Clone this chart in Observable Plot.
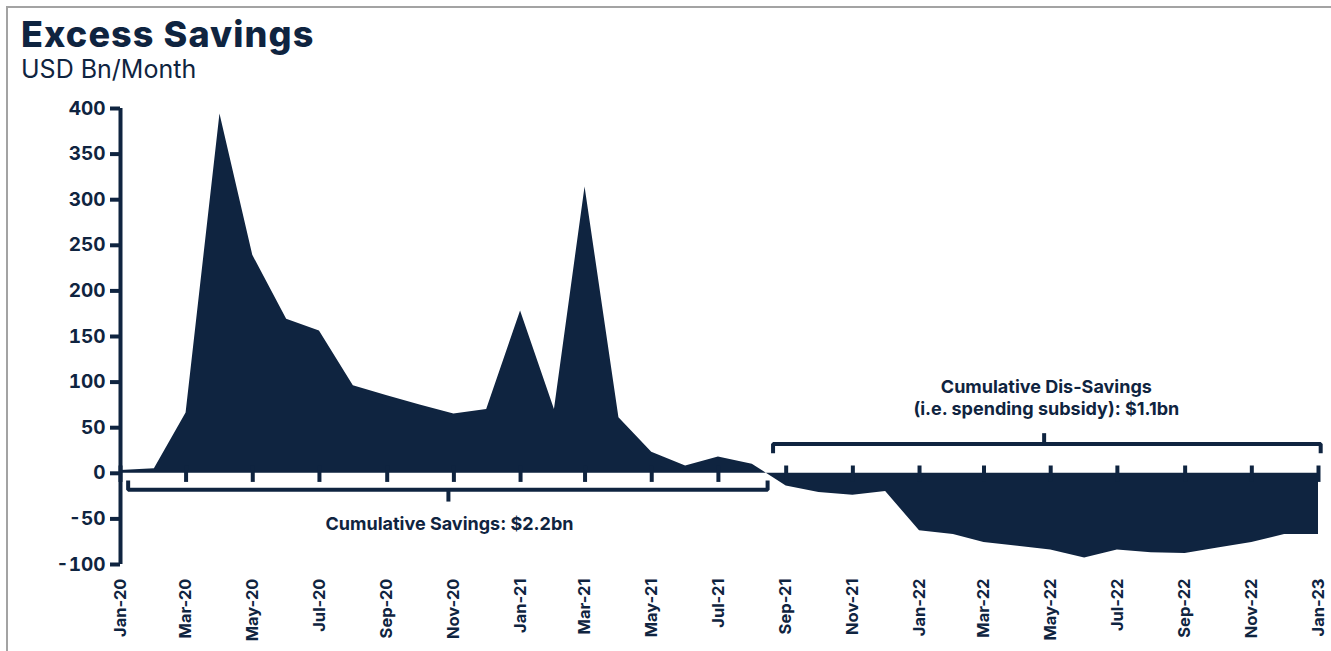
<!DOCTYPE html>
<html>
<head>
<meta charset="utf-8">
<script src="https://cdn.jsdelivr.net/npm/d3@7"></script>
<script src="https://cdn.jsdelivr.net/npm/@observablehq/plot@0.6"></script>
<style>
  html, body { margin: 0; padding: 0; background: #fff; }
  body { width: 1331px; height: 651px; position: relative; overflow: hidden; font-family: Inter, "Liberation Sans", sans-serif; color: #0f2440; }
  #frame { position: absolute; left: 6px; top: 6px; right: -4px; bottom: -4px; border-top: 2px solid #a3a3a3; border-left: 2px solid #a3a3a3; }
  #title { position: absolute; left: 21px; top: 15.5px; font-size: 36px; font-weight: 800; letter-spacing: 1.1px; line-height: 36px; white-space: nowrap; }
  #subtitle { position: absolute; left: 21px; top: 56.5px; font-size: 25px; font-weight: 400; letter-spacing: 0; line-height: 25px; white-space: nowrap; }
  #chart { position: absolute; left: 0; top: 0; }
</style>
</head>
<body>
<div id="frame"></div>
<div id="chart"></div>
<div id="title">Excess Savings</div>
<div id="subtitle">USD Bn/Month</div>
<script>
// Monthly excess savings, USD Bn
const monthLabels = [
  "Jan-20","Feb-20","Mar-20","Apr-20","May-20","Jun-20","Jul-20","Aug-20","Sep-20","Oct-20","Nov-20","Dec-20",
  "Jan-21","Feb-21","Mar-21","Apr-21","May-21","Jun-21","Jul-21","Aug-21","Sep-21","Oct-21","Nov-21","Dec-21",
  "Jan-22","Feb-22","Mar-22","Apr-22","May-22","Jun-22","Jul-22","Aug-22","Sep-22","Oct-22","Nov-22","Dec-22",
  "Jan-23"
];
const excessSavings = [
  3, 5, 66, 394, 239, 169, 156, 96, 85, 75, 65, 70,
  178, 70, 314, 61, 23, 8, 18, 10, -14, -21, -24, -20,
  -63, -67, -76, -80, -84, -93, -84, -87, -88, -82, -76, -67,
  -67
];
const xTickLabels = ["Jan-20","Mar-20","May-20","Jul-20","Sep-20","Nov-20","Jan-21","Mar-21","May-21","Jul-21",
  "Sep-21","Nov-21","Jan-22","Mar-22","May-22","Jul-22","Sep-22","Nov-22","Jan-23"];
const yTicks = [-100, -50, 0, 50, 100, 150, 200, 250, 300, 350, 400];

// Bracket annotations (date, value)
const savingsBracket = [["2020-01-08", -8], ["2020-01-08", -18], ["2021-08-15", -18], ["2021-08-15", -8]];
const savingsBracketStem = [["2020-10-27", -18], ["2020-10-27", -31]];
const savingsLabel = [["2020-10-28", -56, "Cumulative Savings: $2.2bn"]];
const disSavingsBracket = [["2021-08-20", 22], ["2021-08-20", 32], ["2023-01-03", 32], ["2023-01-03", 22]];
const disSavingsBracketStem = [["2022-04-25", 32], ["2022-04-25", 44]];
const disSavingsLabel = [["2022-04-27", 94, "Cumulative Dis-Savings"], ["2022-04-27", 70, "(i.e. spending subsidy): $1.1bn"]];

const navy = "#0f2440";
const parseMonth = d3.utcParse("%b-%y");
const parseDay = d3.utcParse("%Y-%m-%d");
const series = monthLabels.map((m, i) => ({date: parseMonth(m), value: excessSavings[i]}));
const tickDates = xTickLabels.map(parseMonth);
const pts = arr => arr.map(([d, v, t]) => ({date: parseDay(d), value: v, text: t}));
const labelFont = {fontSize: 18, fontWeight: 700, fill: navy};

const chart = Plot.plot({
  width: 1331,
  height: 651,
  marginLeft: 120,
  marginRight: 13,
  marginTop: 108,
  marginBottom: 87,
  style: {fontFamily: "Inter, 'Liberation Sans', sans-serif", color: navy, background: "transparent", overflow: "visible"},
  x: {type: "utc", domain: [parseMonth("Jan-20"), parseMonth("Jan-23")], axis: null},
  y: {domain: [-100, 400], axis: null},
  marks: [
    Plot.areaY(series, {x: "date", y: "value", fill: navy, curve: "linear"}),
    // y axis: line, ticks and labels
    Plot.ruleX([parseMonth("Jan-20")], {y1: -100, y2: 400, stroke: navy, strokeWidth: 4}),
    Plot.axisY(yTicks, {anchor: "left", label: null, tickSize: 10, tickPadding: 5, stroke: navy, strokeWidth: 4,
      fontSize: 19, fontWeight: 700, fill: navy, tickFormat: d => (d < 0 ? "-" : "") + Math.abs(d)}),
    // x ticks crossing the zero line
    Plot.ruleX(tickDates, {y1: -10, y2: 8, stroke: navy, strokeWidth: 4}),
    Plot.text(tickDates, {x: d => d, y: -100, text: (d, i) => xTickLabels[i], rotate: -90, textAnchor: "end",
      lineAnchor: "middle", dy: 14, fontSize: 16.5, fontWeight: 700, fill: navy}),
    // brackets
    Plot.line(pts(savingsBracket), {x: "date", y: "value", stroke: navy, strokeWidth: 4, strokeLinejoin: "miter", strokeLinecap: "butt"}),
    Plot.line(pts(savingsBracketStem), {x: "date", y: "value", stroke: navy, strokeWidth: 4, strokeLinecap: "butt"}),
    Plot.text(pts(savingsLabel), {x: "date", y: "value", text: "text", ...labelFont}),
    Plot.line(pts(disSavingsBracket), {x: "date", y: "value", stroke: navy, strokeWidth: 4, strokeLinejoin: "miter", strokeLinecap: "butt"}),
    Plot.line(pts(disSavingsBracketStem), {x: "date", y: "value", stroke: navy, strokeWidth: 4, strokeLinecap: "butt"}),
    Plot.text(pts(disSavingsLabel), {x: "date", y: "value", text: "text", ...labelFont})
  ]
});
document.getElementById("chart").appendChild(chart);
</script>
</body>
</html>
